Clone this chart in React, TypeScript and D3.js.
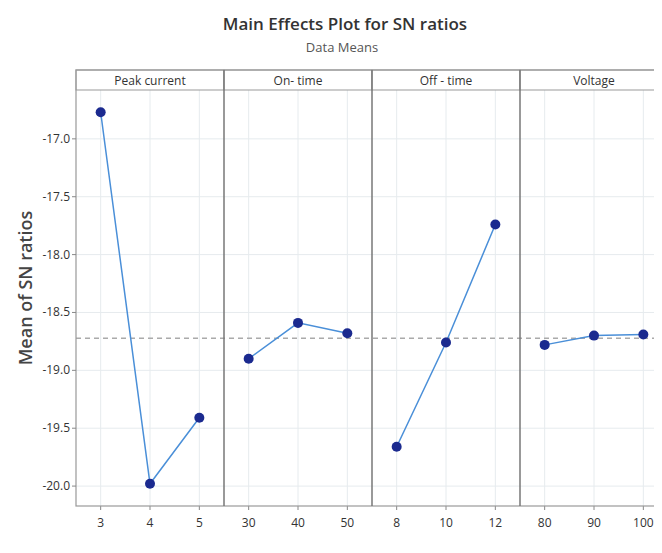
import React from "react";
import * as d3 from "d3";

// factor names shown in the panel headers
const factors = ["Peak current", "On- time", "Off - time", "Voltage"];

// levels + mean SN ratios per factor
const peakLevels = ["3", "4", "5"];
const peakMeans = [-16.77, -19.98, -19.41];
const onLevels = ["30", "40", "50"];
const onMeans = [-18.9, -18.59, -18.68];
const offLevels = ["8", "10", "12"];
const offMeans = [-19.66, -18.76, -17.74];
const voltLevels = ["80", "90", "100"];
const voltMeans = [-18.78, -18.7, -18.69];

const yTicks = [-17.0, -17.5, -18.0, -18.5, -19.0, -19.5, -20.0];

const W = 662;
const H = 553;
const left = 76;
const right = 668; // frame runs off the right edge like the source image
const top = 70;
const headerH = 20;
const bottom = 506;

const font = "'Open Sans', 'Noto Sans', sans-serif";

export default function App() {
  const levels = [peakLevels, onLevels, offLevels, voltLevels];
  const means = [peakMeans, onMeans, offMeans, voltMeans];
  const grandMean = d3.mean(means.flat()) as number;

  const panelScale = d3.scaleBand().domain(factors).range([left, right]);
  const bw = panelScale.bandwidth();

  const yScale = d3
    .scaleLinear()
    .domain([-20.172, -16.578])
    .range([bottom, top + headerH]);

  const lineGen = d3
    .line<[number, number]>()
    .x((d) => d[0])
    .y((d) => d[1]);

  return (
    <svg width={W} height={H} style={{ display: "block", margin: "-8px", background: "#fff" }}>
      {/* title */}
      <text x={345} y={30} textAnchor="middle" fontFamily={font} fontWeight={600} fontSize={17} fill="#333">
        Main Effects Plot for SN ratios
      </text>
      <text x={342} y={52} textAnchor="middle" fontFamily={font} fontSize={13} fill="#555">
        Data Means
      </text>

      {/* y axis title */}
      <text
        transform={`translate(32, ${288}) rotate(-90)`}
        textAnchor="middle"
        fontFamily={font}
        fontWeight={600}
        fontSize={18}
        fill="#444"
      >
        Mean of SN ratios
      </text>

      {/* horizontal gridlines */}
      {yTicks.map((t) => (
        <line key={"hg" + t} x1={left} x2={right} y1={yScale(t)} y2={yScale(t)} stroke="#e6ebee" strokeWidth={1} />
      ))}

      {factors.map((f, i) => {
        const x0 = panelScale(f) as number;
        const xs = d3.scalePoint().domain(levels[i]).range([x0, x0 + bw]).padding(0.5);
        return (
          <g key={f}>
            {levels[i].map((l) => (
              <g key={l}>
                <line x1={xs(l)} x2={xs(l)} y1={top + headerH} y2={bottom} stroke="#e6ebee" strokeWidth={1} />
                <line x1={xs(l)} x2={xs(l)} y1={bottom} y2={bottom + 4} stroke="#888" strokeWidth={1} />
                <text x={xs(l)} y={bottom + 21} textAnchor="middle" fontFamily={font} fontSize={12} fill="#333">
                  {l}
                </text>
              </g>
            ))}
            {/* header strip */}
            <rect x={x0} y={top} width={bw} height={headerH} fill="#fff" stroke="#999" strokeWidth={1} />
            <text x={x0 + bw / 2} y={top + 15} textAnchor="middle" fontFamily={font} fontSize={12} fill="#333">
              {f}
            </text>
          </g>
        );
      })}

      {/* grand mean reference line */}
      <line
        x1={left}
        x2={right}
        y1={yScale(grandMean)}
        y2={yScale(grandMean)}
        stroke="#aaa"
        strokeWidth={1.5}
        strokeDasharray="5,4"
      />

      {/* frame + panel dividers */}
      <rect x={left} y={top} width={right - left} height={bottom - top} fill="none" stroke="#999" strokeWidth={1.2} />
      {factors.slice(1).map((f) => (
        <line
          key={"div" + f}
          x1={panelScale(f)}
          x2={panelScale(f)}
          y1={top}
          y2={bottom}
          stroke="#777"
          strokeWidth={1.5}
        />
      ))}

      {/* series */}
      {factors.map((f, i) => {
        const x0 = panelScale(f) as number;
        const xs = d3.scalePoint().domain(levels[i]).range([x0, x0 + bw]).padding(0.5);
        const pts: [number, number][] = levels[i].map((l, j) => [xs(l) as number, yScale(means[i][j])]);
        return (
          <g key={"s" + f}>
            <path d={lineGen(pts) || ""} fill="none" stroke="#4a8fd8" strokeWidth={1.5} />
            {pts.map((p, j) => (
              <circle key={j} cx={p[0]} cy={p[1]} r={5} fill="#1b2a8f" />
            ))}
          </g>
        );
      })}

      {/* y axis ticks */}
      {yTicks.map((t) => (
        <g key={"yt" + t}>
          <line x1={left - 4} x2={left} y1={yScale(t)} y2={yScale(t)} stroke="#888" />
          <text x={left - 6} y={yScale(t) + 4} textAnchor="end" fontFamily={font} fontSize={12} fill="#333">
            {t.toFixed(1)}
          </text>
        </g>
      ))}
    </svg>
  );
}
